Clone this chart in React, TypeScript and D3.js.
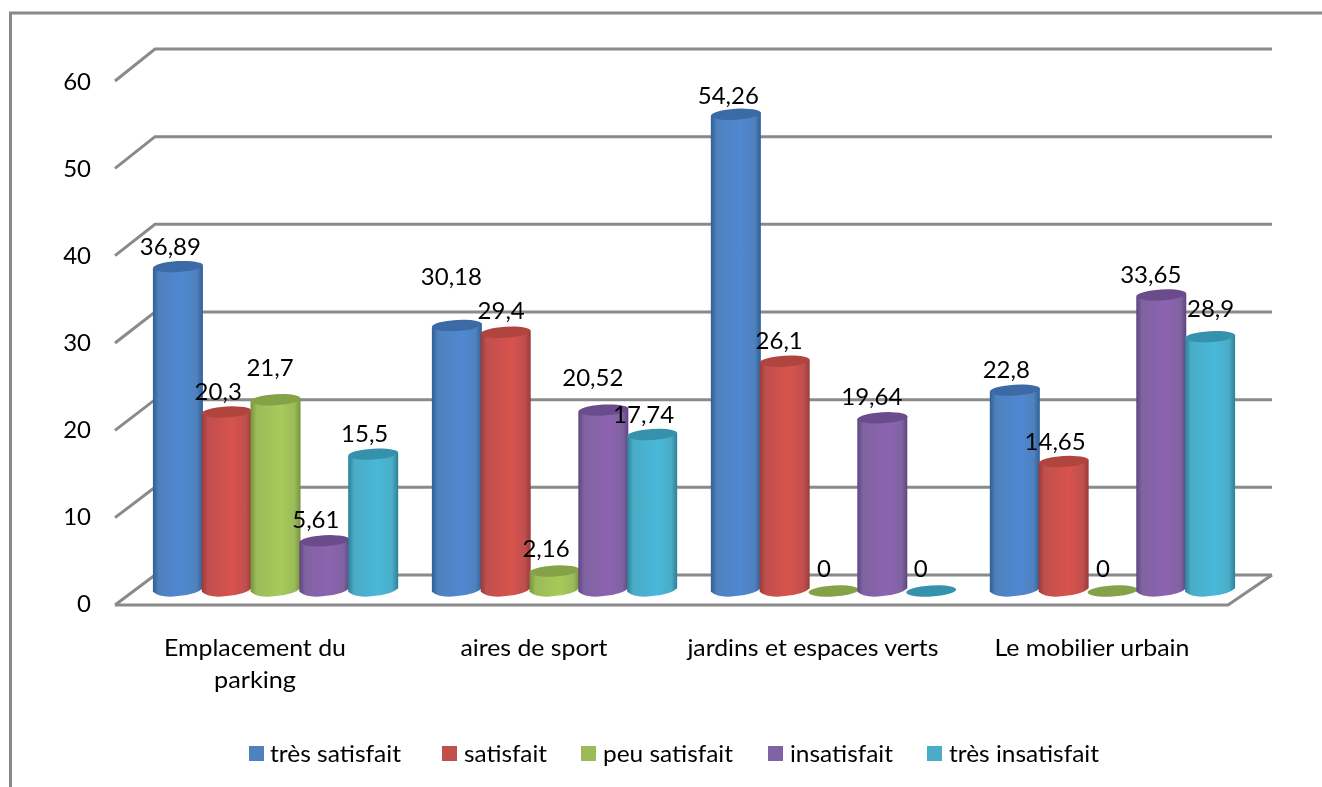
import React from "react";
import * as d3 from "d3";

const categories = ["Emplacement du parking", "aires de sport", "jardins et espaces verts", "Le mobilier urbain"];
const categoryLines = [["Emplacement du", "parking"], ["aires de sport"], ["jardins et espaces verts"], ["Le mobilier urbain"]];
const seriesNames = ["très satisfait", "satisfait", "peu satisfait", "insatisfait", "très insatisfait"];
const tresSatisfait = [36.89, 30.18, 54.26, 22.8];
const satisfait = [20.3, 29.4, 26.1, 14.65];
const peuSatisfait = [21.7, 2.16, 0, 0];
const insatisfait = [5.61, 20.52, 19.64, 33.65];
const tresInsatisfait = [15.5, 17.74, 0, 28.9];
const seriesValues = [tresSatisfait, satisfait, peuSatisfait, insatisfait, tresInsatisfait];
const yTicks = [0, 10, 20, 30, 40, 50, 60];

// style
const colors = ["#4f81bd", "#c0504d", "#9bbb59", "#8064a2", "#4bacc6"];
const lightColors = ["#5088d2", "#d8524e", "#a6ca5a", "#8d64b0", "#48b8da"];
const darkColors = ["#2f5f98", "#9a3a38", "#76943f", "#5f4680", "#2b8099"];
const topColors = ["#3a6ba6", "#b04440", "#86a248", "#6a4c8c", "#3592ad"];

// hand placement of the value labels relative to the bar-top centre [dx, dy]
const labelOffsets = [
  [[-7, -12], [-8, -12], [-5, -24], [-8, -13], [-8, -12]],
  [[-5, -40], [-4, -13], [-8, -14], [-10, -24], [-8, -11]],
  [[-7, -10], [-5, -12], [-9, -13], [-10, -13], [-10, -13]],
  [[-8, -12], [-8, -12], [-9, -13], [-10, -12], [1, -20]],
];
const legendSwatchX = [249, 442, 581, 768, 927];
const legendTextX = [270, 464, 603, 790, 949];
const legendTextW = [131, 83, 130, 103, 150];
const categoryTextW = [[182, 82], [147], [251], [195]];

const W = 1322, H = 787;
const FONT = "Lato, Carlito, Calibri, sans-serif";
const GRID = "#8a8a8a";

const yFront = d3.scaleLinear().domain([0, 60]).range([605, 81]);
const yBack = d3.scaleLinear().domain([0, 60]).range([575, 49]);
const yTickLabel = d3.scaleLinear().domain([0, 60]).range([612, 90]);
const barBaseY = d3.scaleLinear().domain([0, 60]).range([590, 64]);
const xGroup = d3.scaleBand<string>().domain(categories).range([153, 153 + 4 * 279 - 35]).paddingInner(0.125).paddingOuter(0).align(0);
const xBar = d3.scaleBand<string>().domain(seriesNames).range([0, xGroup.bandwidth()]);
const fmt = (v: number) => String(v).replace(".", ",");

function Cylinder({ cx, top, bottom, rx, s }: { cx: number; top: number; bottom: number; rx: number; s: number }) {
  const ry = 5.5, tilt = 1.8;
  const p = d3.path();
  p.moveTo(cx - rx, top + tilt);
  p.lineTo(cx - rx, bottom + tilt);
  p.quadraticCurveTo(cx - rx + 8, bottom + ry + 3, cx, bottom + ry + 0.5);
  p.quadraticCurveTo(cx + rx - 6, bottom + ry - 1, cx + rx, bottom - tilt);
  p.lineTo(cx + rx, top - tilt);
  p.closePath();
  const flat = top === bottom;
  return (
    <g>
      {!flat && <path d={p.toString()} fill={`url(#cyl${s})`} />}
      <ellipse cx={cx} cy={flat ? top + 1 : top} rx={rx} ry={ry} fill={topColors[s]}
        transform={`rotate(-3.5 ${cx} ${top})`} />
    </g>
  );
}

export default function App() {
  const numStyle = { fontFamily: FONT, fontSize: 24, fill: "#000" };
  const textStyle = { fontFamily: FONT, fontSize: 24, fill: "#000" };
  return (
    <svg width={W} height={H} viewBox={`0 0 ${W} ${H}`}
      style={{ position: "absolute", left: 0, top: 0, background: "#fff" }}>
      <defs>
        {colors.map((c, i) => (
          <linearGradient key={i} id={`cyl${i}`} x1="0" x2="1" y1="0" y2="0">
            <stop offset="0" stopColor={darkColors[i]} />
            <stop offset="0.12" stopColor={c} />
            <stop offset="0.6" stopColor={lightColors[i]} />
            <stop offset="0.88" stopColor={c} />
            <stop offset="1" stopColor={darkColors[i]} />
          </linearGradient>
        ))}
        <filter id="soft" x="0" y="0" width="100%" height="100%" filterUnits="userSpaceOnUse">
          <feGaussianBlur stdDeviation="0.45" />
        </filter>
      </defs>

      <g filter="url(#soft)">
        {/* frame */}
        <path d={`M10.5 ${H} V13 H${W}`} fill="none" stroke={GRID} strokeWidth={3} />

        {/* grid */}
        {yTicks.map((t) => (
          <path key={t} d={`M115 ${yFront(t)} L155 ${yBack(t)} H1272`} fill="none" stroke={GRID} strokeWidth={3} />
        ))}
        <path d={`M115 ${yFront(0)} H1228 L1272 ${yBack(0)}`} fill="none" stroke={GRID} strokeWidth={3} />

        {/* axis labels */}
        {yTicks.map((t) => (
          <text key={t} x={91} y={yTickLabel(t)} textAnchor="end" style={numStyle}>{t}</text>
        ))}
        {categories.map((c, i) =>
          categoryLines[i].map((l, j) => (
            <text key={c + j} x={xGroup(c)! + 102} y={656 + j * 32} textAnchor="middle" style={textStyle}
              textLength={categoryTextW[i][j]} lengthAdjust="spacingAndGlyphs">{l}</text>
          ))
        )}

        {/* bars */}
        {categories.map((c, ci) =>
          seriesNames.map((n, si) => {
            const v = seriesValues[si][ci];
            const cx = xGroup(c)! + xBar(n)! + xBar.bandwidth() / 2 + 0.5;
            return <Cylinder key={n + c} cx={cx} top={barBaseY(v)} bottom={barBaseY(0)} rx={25} s={si} />;
          })
        )}

        {/* value labels */}
        {categories.map((c, ci) =>
          seriesNames.map((n, si) => {
            const v = seriesValues[si][ci];
            const cx = xGroup(c)! + xBar(n)! + xBar.bandwidth() / 2;
            const [dx, dy] = labelOffsets[ci][si];
            return (
              <text key={n + c} x={cx + dx} y={barBaseY(v) + dy} textAnchor="middle" style={numStyle}>{fmt(v)}</text>
            );
          })
        )}

        {/* legend */}
        {seriesNames.map((n, i) => (
          <g key={n}>
            <rect x={legendSwatchX[i]} y={746} width={15} height={15} fill={colors[i]} />
            <text x={legendTextX[i]} y={762} style={textStyle} textLength={legendTextW[i]} lengthAdjust="spacingAndGlyphs">{n}</text>
          </g>
        ))}
      </g>
    </svg>
  );
}
